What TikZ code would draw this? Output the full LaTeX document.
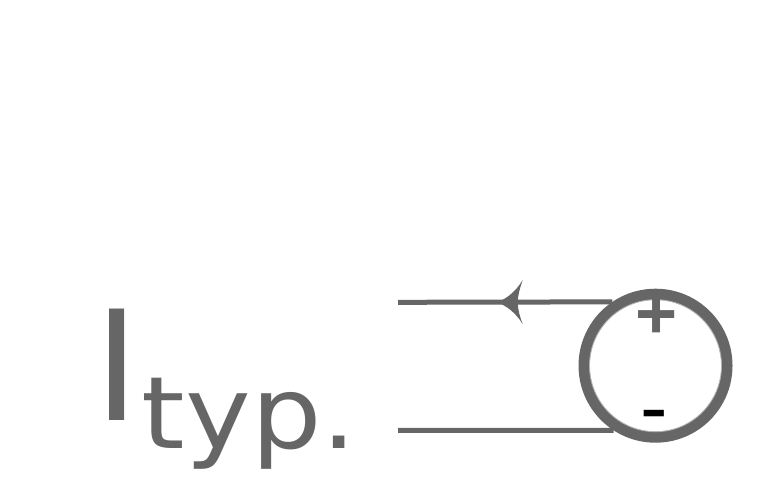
\documentclass[tikz,border=0pt]{standalone}
\usepackage{fontspec}
\setmainfont{DejaVu Sans}
\newfontfamily\signfont{Liberation Sans}
\definecolor{wiregray}{HTML}{666666}
\tikzset{
  wire/.style={draw=wiregray, line width=.1cm},
  sourcering/.style={circle, draw=wiregray, fill=white, line width=.22cm, inner sep=0pt, minimum size=2.86cm},
  bigtext/.style={inner sep=0pt, anchor=base west, text=wiregray}
}
\begin{document}
\begin{tikzpicture}
\useasboundingbox (0,0) rectangle (15.6,9.6);
\node[bigtext] (current) at (1.89,1.2){\fontsize{87}{87}\selectfont I};
\node[bigtext, xscale=1.11] (typ) at (2.83,0.64){\fontsize{57}{57}\selectfont typ.};
\node[sourcering] (source) at (13.11,2.286){};
\draw[gray!60, line width=.5pt] (source) circle (1.32);
\coordinate (topend) at (7.96,3.554);
\coordinate (bottomend) at (7.96,0.994);
\draw[wire] (topend) -- (source.124);
\draw[wire] (bottomend) -- (source.237);
% arrowhead on the upper wire
\fill[wiregray] (9.94,3.554) .. controls (10.12,3.62) and (10.3,3.75) .. (10.454,4.0)
  .. controls (10.4,3.85) and (10.36,3.7) .. (10.35,3.554)
  .. controls (10.36,3.4) and (10.4,3.25) .. (10.454,3.12)
  .. controls (10.3,3.36) and (10.12,3.49) .. (9.94,3.554);
\node[inner sep=0pt, text=wiregray] (plus) at (13.13,3.26){\fontsize{41}{41}\selectfont\signfont\bfseries +};
\node[inner sep=0pt, text=black] (minus) at (13.09,1.15){\fontsize{47}{47}\selectfont\signfont -};
\end{tikzpicture}
\end{document}
